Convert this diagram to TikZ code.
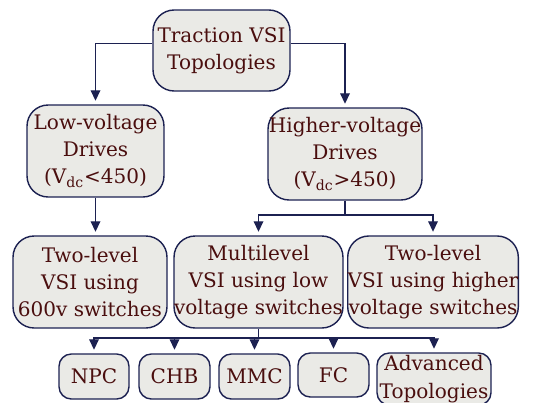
\documentclass[tikz,border=0pt]{standalone}
\usepackage{fontspec}
\setmainfont{DejaVu Serif}
\usepackage{xcolor}
\usepackage{tikz}
\usetikzlibrary{arrows.meta, positioning}
\definecolor{boxfill}{HTML}{EAEAE6}
\definecolor{boxline}{HTML}{1C2151}
\definecolor{boxtext}{HTML}{4A0E0E}
\tikzstyle{topic} = [draw=boxline, fill=boxfill, rectangle, rounded corners=12pt, align=center, text=boxtext, line width=0.8pt, inner sep=0pt, font=\fontsize{11.4}{15.5}\selectfont]
\tikzstyle{leaf} = [topic, rounded corners=7pt]
\tikzstyle{arrow} = [draw=boxline, line width=0.7pt, -{Triangle[length=6pt,width=5.5pt]}, shorten >=2pt]

\begin{document}
\begin{tikzpicture}[x=0.02cm, y=-0.02cm]
    \useasboundingbox (0,0) rectangle (550,402);
    % first level
    \node (top) [topic, minimum width=2.74cm, minimum height=1.62cm] at (221.5,50.5) {Traction VSI\\Topologies};
    \node (low) [topic, minimum width=2.74cm, minimum height=1.84cm] at (95.5,151) {Low-voltage\\Drives\\(V\textsubscript{dc}<450)};
    \node (high) [topic, minimum width=3.08cm, minimum height=1.84cm] at (345,154) {Higher-voltage\\Drives\\(V\textsubscript{dc}>450)};
    % second level
    \node (twolow) [topic, minimum width=3.08cm, minimum height=1.84cm] at (90,282) {Two-level\\VSI using\\600v switches};
    \node (multi) [topic, minimum width=3.34cm, minimum height=1.84cm] at (258.5,282) {Multilevel\\VSI using low\\voltage switches};
    \node (twohigh) [topic, minimum width=3.40cm, minimum height=1.84cm] at (433,282) {Two-level\\VSI using higher\\voltage switches};
    % multilevel topologies
    \node (npc) [leaf, minimum width=1.40cm, minimum height=0.90cm] at (94,376.5) {NPC};
    \node (chb) [leaf, minimum width=1.42cm, minimum height=0.90cm] at (174.5,376.5) {CHB};
    \node (mmc) [leaf, minimum width=1.42cm, minimum height=0.90cm] at (254.5,376.5) {MMC};
    \node (fc) [leaf, minimum width=1.42cm, minimum height=0.88cm] at (333.5,375) {FC};
    \node (adv) [leaf, minimum width=2.28cm, minimum height=1.04cm] at (434,379) {Advanced\\Topologies};
    % connectors
    \coordinate (hsplit) at (345,215);
    \coordinate (msplit) at (258.5,338);
    \draw [arrow] ([yshift=4pt]top.west) -| (low.north);
    \draw [arrow] ([yshift=4pt]top.east) -| (high.north);
    \draw [arrow] (low.south) -- (low.south |- twolow.north);
    \draw [draw=boxline, line width=0.7pt] (high.south) -- (hsplit);
    \draw [arrow] (hsplit) -| (multi.north);
    \draw [arrow] (hsplit) -| (twohigh.north);
    \draw [draw=boxline, line width=0.7pt] (multi.south) -- (msplit);
    \foreach \leafname in {npc, chb, mmc, fc, adv}
        \draw [arrow] (msplit) -| (\leafname.north);
\end{tikzpicture}
\end{document}
